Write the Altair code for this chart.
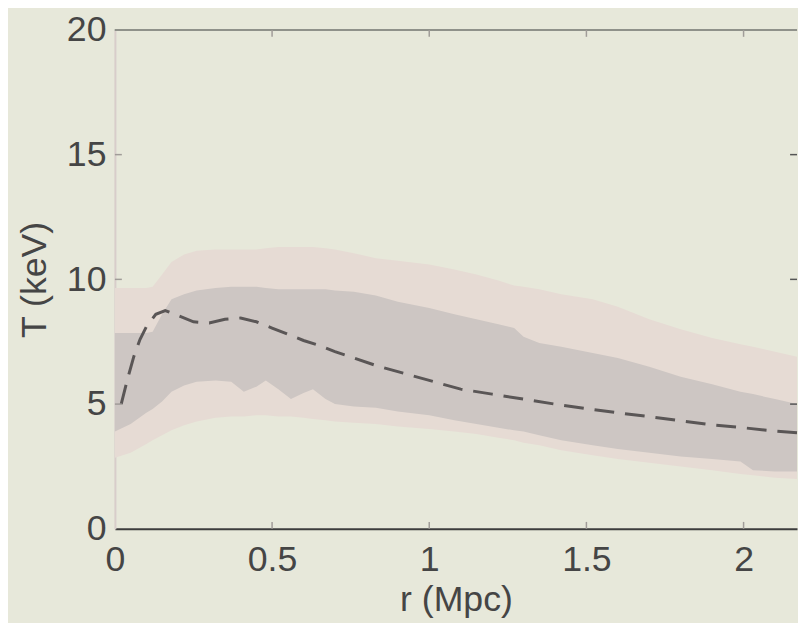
import altair as alt
import pandas as pd

# ---- data ----
r_band = [0.00, 0.05, 0.10, 0.12, 0.15, 0.18, 0.22, 0.26, 0.32, 0.37, 0.41, 0.45, 0.48,
          0.52, 0.56, 0.60, 0.63, 0.67, 0.70, 0.76, 0.83, 0.90, 1.00, 1.08, 1.15, 1.22,
          1.27, 1.30, 1.35, 1.42, 1.52, 1.60, 1.70, 1.80, 1.90, 1.99, 2.03, 2.10, 2.17]
outer_hi = [9.65, 9.65, 9.65, 9.70, 10.2, 10.7, 11.0, 11.15, 11.2, 11.2, 11.2, 11.2, 11.25,
            11.3, 11.3, 11.3, 11.3, 11.25, 11.2, 11.05, 10.85, 10.75, 10.6, 10.4, 10.2, 9.95,
            9.75, 9.70, 9.60, 9.40, 9.20, 8.90, 8.40, 8.00, 7.65, 7.40, 7.30, 7.10, 6.90]
outer_lo = [2.85, 3.05, 3.40, 3.55, 3.75, 3.95, 4.15, 4.30, 4.45, 4.50, 4.50, 4.55, 4.55,
            4.50, 4.50, 4.45, 4.40, 4.35, 4.30, 4.25, 4.20, 4.10, 4.00, 3.90, 3.80, 3.65,
            3.55, 3.45, 3.35, 3.15, 2.95, 2.80, 2.65, 2.50, 2.35, 2.20, 2.15, 2.05, 2.00]
inner_hi = [7.85, 7.85, 7.85, 7.90, 8.60, 9.20, 9.40, 9.55, 9.65, 9.70, 9.70, 9.70, 9.65,
            9.60, 9.60, 9.60, 9.60, 9.60, 9.55, 9.50, 9.35, 9.10, 8.85, 8.60, 8.40, 8.20,
            8.05, 7.70, 7.45, 7.30, 7.05, 6.85, 6.50, 6.10, 5.80, 5.50, 5.40, 5.20, 5.00]
inner_lo = [3.90, 4.20, 4.65, 4.80, 5.10, 5.50, 5.75, 5.90, 5.95, 5.90, 5.50, 5.70, 5.95,
            5.60, 5.20, 5.45, 5.60, 5.20, 5.00, 4.90, 4.85, 4.70, 4.55, 4.35, 4.20, 4.05,
            3.95, 3.90, 3.75, 3.55, 3.35, 3.20, 3.05, 2.90, 2.80, 2.70, 2.35, 2.30, 2.30]

r_mean = [0.02, 0.04, 0.06, 0.08, 0.10, 0.13, 0.16, 0.20, 0.25, 0.30, 0.35, 0.40, 0.45,
          0.50, 0.55, 0.60, 0.65, 0.70, 0.76, 0.83, 0.90, 1.00, 1.10, 1.20, 1.30, 1.40,
          1.50, 1.60, 1.70, 1.80, 1.90, 2.00, 2.10, 2.17]
t_mean = [5.00, 6.00, 6.90, 7.60, 8.10, 8.60, 8.75, 8.55, 8.30, 8.25, 8.40, 8.45, 8.30,
          8.05, 7.80, 7.55, 7.35, 7.10, 6.85, 6.55, 6.30, 5.95, 5.60, 5.40, 5.20, 5.00,
          4.82, 4.65, 4.50, 4.33, 4.17, 4.05, 3.92, 3.85]

x_ticks = [0, 0.5, 1, 1.5, 2]
y_ticks = [0, 5, 10, 15, 20]
x_max = 2.17
y_max = 20

W, H = 689, 504
BG = "#e7e8da"
PINK = "#e6dbd4"
GREY = "#cdc6c3"
TXT = "#454545"
FONT = "Liberation Sans"

band = pd.DataFrame({"r": r_band, "ohi": outer_hi, "olo": outer_lo,
                     "ihi": inner_hi, "ilo": inner_lo})
mean = pd.DataFrame({"r": r_mean, "T": t_mean})
xt = pd.DataFrame({"r": x_ticks[1:]})
yt = pd.DataFrame({"T": y_ticks[1:-1]})

xs = alt.Scale(domain=[0, x_max], nice=False, zero=False)
ys = alt.Scale(domain=[0, y_max], nice=False)

x_axis = alt.Axis(values=x_ticks, labelExpr="datum.value", ticks=False, tickSize=0,
                  grid=False, domainColor="#3c3c3c", domainWidth=2, labelFlush=False,
                  labelOverlap=False,
                  labelFontSize=36, labelFont=FONT, labelColor=TXT, labelPadding=14,
                  title="r (Mpc)", titleFontSize=36, titleFont=FONT, titleColor=TXT,
                  titleFontWeight="normal", titlePadding=5)
y_axis = alt.Axis(values=y_ticks, ticks=False, tickSize=0, grid=False,
                  domainColor="#d8cdca", domainWidth=2, labelFlush=False,
                  labelOverlap=False,
                  labelFontSize=36, labelFont=FONT, labelColor=TXT, labelPadding=9,
                  title="T (keV)", titleFontSize=36, titleFont=FONT, titleColor=TXT,
                  titleFontWeight="normal", titlePadding=13)

outer = alt.Chart(band).mark_area(color=PINK, opacity=1).encode(
    x=alt.X("r:Q", scale=xs, axis=x_axis),
    y=alt.Y("ohi:Q", scale=ys, axis=y_axis),
    y2="olo:Q",
)
inner = alt.Chart(band).mark_area(color=GREY, opacity=1).encode(
    x="r:Q", y="ihi:Q", y2="ilo:Q"
)
line = alt.Chart(mean).mark_line(color="#5a5656", strokeWidth=3,
                                 strokeDash=[20, 11]).encode(x="r:Q", y="T:Q")

top_line = alt.Chart(xt).mark_rule(color="#8f918a", strokeWidth=2).encode(
    x=alt.datum(0), x2=alt.datum(x_max), y=alt.datum(y_max))
tick_col = "#a09c98"
top_ticks = alt.Chart(xt).mark_rule(color=tick_col, strokeWidth=1.5).encode(
    x="r:Q", y=alt.value(0), y2=alt.value(7))
bot_ticks = alt.Chart(xt).mark_rule(color=tick_col, strokeWidth=1.5).encode(
    x="r:Q", y=alt.value(H - 7), y2=alt.value(H))
left_ticks = alt.Chart(yt).mark_rule(color=tick_col, strokeWidth=1.5).encode(
    y="T:Q", x=alt.value(0), x2=alt.value(7))
right_ticks = alt.Chart(yt).mark_rule(color="#555555", strokeWidth=1.5).encode(
    y="T:Q", x=alt.value(W - 7), x2=alt.value(W))

chart = alt.layer(outer, inner, line, top_line, top_ticks, bot_ticks,
                  left_ticks, right_ticks).properties(
    width=W, height=H, background=BG,
    autosize=alt.AutoSizeParams(type="none"),
    padding={"left": 108, "top": 19, "right": 1, "bottom": 92},
).configure_view(stroke=None)

chart.save("out.html", embed_options={"renderer": "svg", "actions": False})
